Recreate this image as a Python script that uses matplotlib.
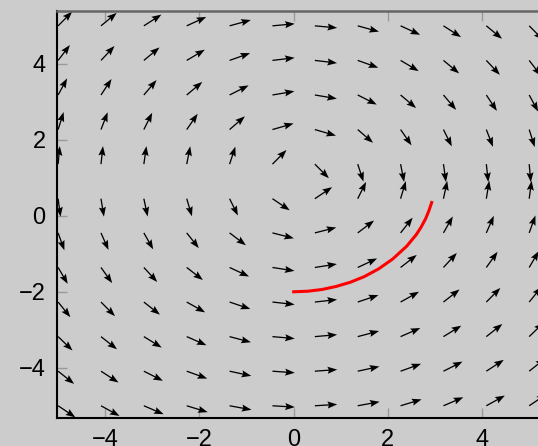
import numpy as np
import matplotlib
matplotlib.use('Agg')
import matplotlib.pyplot as plt

plt.rcParams['font.family'] = ['Liberation Sans', 'DejaVu Sans']

# grid of the direction field
grid_x = [-5.0, -4.09, -3.18, -2.27, -1.36, -0.45, 0.45, 1.36, 2.27, 3.18, 4.09, 5.0]
grid_y = [5.0, 4.09, 3.18, 2.27, 1.36, 0.45, -0.45, -1.36, -2.27, -3.18, -4.09, -5.0]

# arrow direction (degrees, data space), rows top -> bottom, cols left -> right
angle_deg = [
    [51.3, 45.6, 38.5, 29.6, 18.8, 6.5, -6.5, -18.8, -29.6, -38.5, -45.6, -51.3],
    [58.3, 52.9, 45.8, 36.3, 23.8, 8.4, -8.4, -23.8, -36.3, -45.8, -52.9, -58.3],
    [66.4, 61.9, 55.6, 46.2, 32.0, 11.8, -11.8, -32.0, -46.2, -55.6, -61.9, -66.4],
    [75.7, 72.7, 68.2, 60.8, 47.0, 19.7, -19.7, -47.0, -60.8, -68.2, -72.7, -75.7],
    [85.8, 84.9, 83.5, 80.9, 75.1, 51.3, -51.3, -75.1, -80.9, -83.5, -84.9, -85.8],
    [-83.8, -82.4, -80.3, -76.5, -68.2, -39.8, 39.8, 68.2, 76.5, 80.3, 82.4, 83.8],
    [-73.8, -70.4, -65.4, -57.4, -43.2, -17.4, 17.4, 43.2, 57.4, 65.4, 70.4, 73.8],
    [-64.7, -60.0, -53.4, -43.9, -30.0, -10.9, 10.9, 30.0, 43.9, 53.4, 60.0, 64.7],
    [-56.8, -51.3, -44.2, -34.8, -22.6, -7.9, 7.9, 22.6, 34.8, 44.2, 51.3, 56.8],
    [-50.1, -44.4, -37.3, -28.5, -18.1, -6.2, 6.2, 18.1, 28.5, 37.3, 44.4, 50.1],
    [-44.5, -38.8, -32.0, -24.1, -15.0, -5.1, 5.1, 15.0, 24.1, 32.0, 38.8, 44.5],
    [-39.8, -34.3, -27.9, -20.7, -12.8, -4.3, 4.3, 12.8, 20.7, 27.9, 34.3, 39.8],
]

# solution curve starting at (0, -2)
curve_x = [0.0, 0.3, 0.6, 0.9, 1.2, 1.5, 1.8, 2.1, 2.4, 2.6, 2.7, 2.8, 2.87, 2.93]
curve_y = [-2.0, -1.985, -1.94, -1.86, -1.75, -1.60, -1.40, -1.14, -0.80, -0.50,
           -0.31, -0.08, 0.13, 0.35]

bg = '#cccccc'
fig = plt.figure(figsize=(5.38, 4.46), dpi=100, facecolor=bg)
ax = fig.add_axes([0.1054, 0.0621, 0.922, 0.9132], facecolor=bg)

X, Y = np.meshgrid(grid_x, grid_y)
theta = np.radians(np.array(angle_deg))
U = np.cos(theta)
V = np.sin(theta)

ax.quiver(X, Y, U, V, angles='xy', scale_units='xy', scale=2.1,
          width=0.0026, headwidth=5.5, headlength=7.5, headaxislength=6.5,
          color='black', zorder=2)
ax.plot(curve_x, curve_y, color='red', lw=2.2, zorder=3)

ax.set_xlim(-5.03, 5.5)
ax.set_ylim(-5.33, 5.39)
ax.set_xticks([-4, -2, 0, 2, 4])
ax.set_yticks([-4, -2, 0, 2, 4])

ax.tick_params(direction='in', length=7, width=1, color='#999999',
               top=True, right=True, labelsize=17, pad=8)
for side in ['left', 'bottom']:
    ax.spines[side].set_color('black')
    ax.spines[side].set_linewidth(1.5)
for side in ['top', 'right']:
    ax.spines[side].set_color('#666666')
    ax.spines[side].set_linewidth(1.8)

fig.savefig('out.png', dpi=100, facecolor=bg)
